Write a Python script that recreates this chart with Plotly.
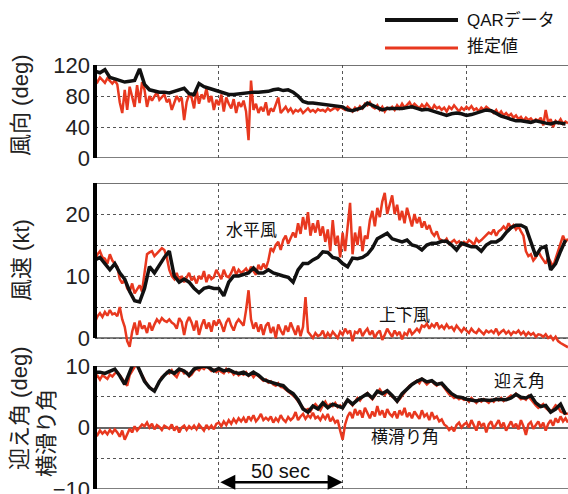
import plotly.graph_objects as go

# ---------------- data ----------------
t_qar = list(range(0, 192, 2))      # QAR sample times (s)
t_est = list(range(0, 192))         # estimate sample times (s)

# Panel 1: wind direction (deg)
dir_qar = [112, 110, 114, 104, 102, 100, 98, 99, 100, 115, 95, 88, 86, 85, 85, 84,
           86, 88, 90, 83, 82, 96, 92, 90, 88, 85, 84, 82, 82, 83, 84, 84,
           85, 85, 85, 86, 88, 89, 87, 88, 85, 80, 73, 71, 71, 70, 70, 69,
           68, 67, 66, 62, 61, 63, 65, 71, 68, 66, 62, 64, 64, 63, 64, 65,
           66, 64, 62, 63, 61, 60, 58, 55, 57, 58, 57, 55, 56, 58, 60, 62,
           61, 57, 54, 52, 50, 48, 48, 47, 46, 48, 46, 45, 44, 46, 45, 44]
dir_est = [102, 98, 104, 100, 97, 103, 99, 96, 100, 95,
           72, 58, 88, 62, 92, 80, 66, 94, 71, 98,
           88, 66, 80, 74, 79, 85, 75, 78, 82, 72,
           76, 62, 70, 80, 74, 78, 49, 72, 82, 78,
           64, 88, 70, 82, 76, 90, 72, 80, 62, 75,
           68, 82, 60, 78, 70, 64, 76, 58, 72, 66,
           74, 60, 23, 100, 62, 70, 58, 66, 60, 72,
           55, 64, 60, 68, 78, 58, 62, 66, 60, 64,
           58, 62, 60, 63, 58, 61, 64, 60, 62, 59,
           63, 61, 62, 60, 64, 61, 63, 65, 62, 66,
           64, 62, 66, 63, 60, 65, 62, 67, 64, 70,
           68, 72, 66, 64, 68, 62, 66, 60, 65, 63,
           66, 62, 68, 64, 70, 65, 68, 72, 66, 70,
           67, 64, 69, 65, 70, 66, 62, 68, 64, 66,
           62, 65, 60, 66, 63, 68, 64, 60, 65, 62,
           66, 63, 67, 62, 64, 60, 65, 62, 66, 63,
           61, 58, 62, 56, 60, 55, 58, 54, 57, 52,
           55, 50, 53, 48, 52, 49, 51, 47, 50, 48,
           52, 42, 62, 46, 50, 40, 48, 45, 50, 44, 47, 45]

# Panel 2: wind speed (kt)
hw_qar = [12.6, 13, 12, 11, 12, 10.5, 9.5, 7.5, 6, 5.8, 8, 11.5, 10.5, 11.8, 13, 14,
          10, 9, 9.5, 9, 8, 7.3, 8, 8.2, 8, 8, 6.8, 9, 10, 10, 10.2, 10.5,
          11.3, 10.5, 10.5, 11, 10.5, 10.2, 10, 9.8, 9, 11, 12, 12, 12.6, 13, 13.9, 13.8,
          13, 12.8, 12, 11.5, 12.9, 12.8, 13, 13.5, 14.5, 16, 16.5, 16.9, 16, 15.8,
          15.5, 15.8, 15, 14.8, 14.2, 15, 15.3, 15.3, 15.6, 15.6, 15, 14.2, 15.3, 15, 14.7, 14.7,
          14, 15, 15.5, 15.5, 16, 17, 17.8, 18.2, 18.2, 17.8, 15.5, 13.2, 14.5, 14.8, 11, 12, 14, 15.8]
hw_est = [12.5, 13.5, 14, 13, 12.8, 12, 13.5, 12.5, 12, 11.5,
          9.5, 8.8, 9.5, 8, 7.5, 8.8, 7.2, 7.8, 8.5, 7.5,
          10.5, 13.5, 13.8, 14, 13.2, 13.6, 14, 14.5, 14.2, 13,
          11, 10, 9.5, 10.5, 9.2, 10, 9, 9.8, 10.5, 9.3,
          9.8, 8.8, 10, 9.5, 10.8, 9, 10.2, 9.5, 9.8, 11,
          10.2, 9.5, 11, 10, 9.8, 10.5, 11.5, 10.2, 11, 10.5,
          10.8, 11.2, 10.5, 11.5, 10.8, 10.2, 11.8, 11, 12, 11.2,
          12.5, 14.5, 14, 15, 15.5, 14.2, 15.8, 16.5, 15.2, 16,
          17, 16.2, 18.5, 16.8, 19.5, 17.5, 20.3, 16.5, 18.5, 17,
          19, 16.5, 18, 15.5, 17.5, 14, 19, 15, 16.5, 13,
          17, 14, 18.5, 21.8, 13.5, 17, 15, 18, 14, 16.5,
          16, 19, 20.5, 18, 21, 19.5, 22, 23.4, 20, 21.5,
          23, 20, 21.5, 19, 20.5, 18.5, 21, 19.5, 18, 20,
          18.5, 19.5, 17.8, 18.8, 17.5, 18.2, 17, 16.5, 17.2, 16,
          15.8, 15.5, 16, 15.2, 15.5, 15.8, 15.3, 15.6, 15, 15.5,
          15.2, 15.8, 15.5, 15, 16, 15.5, 15.8, 16.2, 16.5, 17,
          16.8, 17.5, 16.5, 17.2, 17.5, 18, 17.5, 18.5, 17.8, 18.2,
          17.5, 18, 17.2, 16.5, 14, 13.2, 13.5, 12.5, 13, 14,
          13.2, 12.5, 12, 13, 12.2, 11.5, 12.8, 14, 15, 16.5, 15.5, 16]
vw_est = [2.6, 3.5, 4, 3.4, 4.2, 3.6, 4.5, 3.8, 4, 3.5,
          5, 3, 1.8, -0.5, -1.4, 1, 2.5, 0.5, 2.8, 1.5,
          2, 0.8, 2.5, 1.2, 2.2, 3, 2.5, 3.2, 2.8, 2.6,
          3, 2.5, 2.2, 1.5, 3.2, 2.6, 0.5, 2.5, 3.4, 2.5,
          1.2, 2.8, 0.5, 2, 3, 1.5, 2.5, 1, 2.8, 2,
          3, 2.2, 1, 2.5, 3.2, 2, 1.2, 2.4, 3, 2.5,
          2, 4.5, 7.7, 3, 1.5, 2.5, 1, 2.2, 0.5, 2,
          2.5, 0.8, 1.8, 0, 2.2, 1.2, 0.5, 2, 1, 2.5,
          1.5, 0.5, 2, 0.3, 1.8, 6.6, 1, 0.5, 0, 0.8,
          0.3, 0.5, 1.2, 0, 0.8, 0.2, 1, 0.5, 0, 1,
          0.5, 1.5, 0.8, 1.2, -0.5, 1, 0.8, 1.5, 0.3, 1,
          1.5, 0.5, 1.2, 0, 0.8, 1.2, -0.3, 0.5, 1.5, 0.8,
          0.2, 1.2, 0.5, 1, -0.2, 0.8, 0.5, 1.5, 0.6, 1,
          1.5, 1, 2, 1.8, 2.3, 1.5, 2.2, 1.8, 2.5, 1.6,
          2, 1.5, 2.2, 1.6, 1.8, 1.2, 2, 1.5, 1, 1.6,
          1.2, 0.8, 1.5, 1, 0.8, 1.4, 1, 0.6, 1.2, 0.9,
          1.2, 0.8, 1.5, 0.6, 1, 1.3, 0.7, 1.1, 0.5, 1,
          0.8, 1.2, 0.6, 1, 0.4, 0.9, 0.5, 0.8, 0.2, 0.6,
          0.5, 0.2, 0.6, 0, 0.3, -0.3, 0.2, -0.5, -0.8, -1, -1.3, -1.5]

# Panel 3: angle of attack / sideslip (deg)
aoa_qar = [9, 9, 8.8, 9.2, 9.5, 8.4, 7, 9, 11, 9.3, 7.5, 6.5, 5.9, 7.5, 8.5, 9.2,
           8.8, 9.5, 9.2, 8.5, 9.5, 9.8, 10, 9.8, 9.2, 9.6, 9.2, 9.4, 9, 8.8, 9, 8.5,
           9, 8.5, 7.8, 7.5, 7.2, 7, 6.8, 6, 5.5, 4.5, 3, 2.5, 3.5, 3, 4, 3.2,
           3.8, 3.5, 3.2, 4.5, 3.8, 4.5, 5, 5.5, 4.8, 5.9, 5.5, 6, 5.2, 4.3,
           5.5, 6.2, 7, 7.5, 7.9, 7.4, 7.6, 7, 7.2, 6.3, 5.5, 5, 4.9, 4.6,
           4.5, 4.3, 4.5, 4.4, 4.4, 4.6, 4.5, 4.5, 4.8, 5.4, 4.9, 4.8, 5.2, 4, 3.4, 3.6,
           2.5, 3, 3.8, 2.1]
aoa_est = [8, 8.4, 7.8, 8.5, 8.2, 7.9, 8.6, 8.3, 8.8, 9,
           8.5, 7.9, 7.2, 6.8, 8.5, 9.2, 10, 10.5, 9.2, 8.6,
           7.8, 7, 6.6, 6.2, 6, 6.8, 7.6, 8.2, 8.4, 9,
           8.8, 9.3, 8.6, 8.2, 9.1, 9.4, 8.8, 9, 8.3, 8.6,
           9.2, 9.6, 9.3, 9.8, 9.5, 10, 9.6, 9.2, 9.4, 9,
           9.3, 9.1, 8.8, 9.5, 9, 9.2, 8.6, 9, 8.5, 8.8,
           8.6, 9, 8.4, 8.8, 8.2, 8.7, 8.4, 8, 7.6, 7.8,
           7.3, 7.5, 7, 6.8, 7.2, 6.6, 6.5, 6.2, 5.8, 5.6,
           5.2, 4.8, 4.2, 3.8, 3.2, 2.8, 3, 2.6, 3.4, 3.8,
           3.2, 2.8, 3.6, 4.2, 3.4, 3.8, 3.5, 4, 3.3, 3.6,
           3.2, 4, 4.5, 4.1, 3.6, 4.2, 4.8, 4.4, 5, 5.3,
           5.6, 5, 4.6, 5.2, 5.8, 6.2, 5.6, 5.3, 5.9, 5.4,
           5, 4.8, 4.2, 4.6, 5.2, 5.8, 6.4, 6.8, 7, 7.3,
           7.6, 7.2, 7.9, 7.5, 7, 7.4, 7.6, 7.1, 6.8, 7.2,
           7, 6.5, 6, 5.4, 5.2, 4.8, 5, 4.6, 4.8, 4.5,
           4.6, 4.2, 4.8, 4.4, 4, 4.5, 4.2, 4.6, 4.3, 4,
           4.5, 4.2, 4.7, 4.4, 4.8, 4.3, 4.6, 4.9, 5.2, 5,
           5.5, 5, 4.6, 4.8, 4.5, 5.1, 4.6, 4, 3.6, 3.2,
           3.5, 3.8, 3.2, 2.8, 2.5, 3, 3.6, 3.3, 2.6, 2.4, 2.2, 2.3]
slip_est = [-0.8, -1.2, -0.5, -1, -0.6, -1.1, -0.4, -0.9, -0.3, -0.8,
            -1.5, -0.5, -2, -1, -0.2, -0.8, 0.2, -0.5, 0, 0.5,
            0.2, 0.8, 0, 0.6, -0.3, 0.4, 0.1, -0.4, 0.3, 0,
            -0.2, 0.5, -0.5, 0.2, -0.8, 0, 0.3, -0.4, 0.2, -0.2,
            0.3, -0.3, 0.5, 0, -0.5, 0.4, -0.2, 0.3, -0.3, 0.6,
            0.8, 0.2, 1, 0.4, 1.2, 0.6, 1.4, 0.8, 1.5, 1,
            1.6, 0.8, 1.8, 1.2, 2, 1, 1.5, 2.2, 1.2, 1.6,
            1.2, 1.8, 0.8, 1.5, 1, 2, 1.3, 0.9, 1.7, 1.2,
            1.6, 2.5, 1.2, 1.8, 2.2, 1.4, 2, 1.6, 2.4, 1.5,
            1.8, 1.2, 2, 1.4, 2.2, 1, 1.6, 0.8, 1.2, -0.5,
            -2, 0.5, 1.8, 2.5, 1.5, 3, 2, 2.8, 1.6, 3.2,
            2.2, 1.5, 2.6, 1.8, 3.5, 2, 2.8, 1.6, 3, 2.2,
            1.8, 2.6, 1.5, 2.8, 2, 3.2, 1.7, 2.4, 1.5, 2.6,
            2, 1.4, 2.8, 1.8, 2.2, 1.2, 2.5, 1.5, 1.8, 1,
            1.3, 0.5, 0.2, -0.4, 0, -0.6, 0.4, 0.8, 0, 0.5,
            0.8, 0, 1.2, 0.4, -0.5, 1, 0.2, 0.7, -0.8, 0.5,
            1, -0.2, 0.6, 1.2, 0, 0.8, -0.5, 0.4, 1, 0,
            0.6, -0.3, 1.2, 0.2, -1.2, 0.5, 0.9, -0.2, 0.5, 1,
            0, 0.8, -0.5, 0.6, 1.2, 0.3, 1.5, 0.8, 1.8, 1, 1.5, 0.8]

legend_names = ["QARデータ", "推定値"]
panel_titles = ["風向 (deg)", "風速 (kt)", "迎え角 (deg)", "横滑り角"]
x_range = [0, 191]

# ---------------- style ----------------
BLACK = "#111111"
RED = "#E8381F"
GRID = "#555555"
FONT = "Liberation Sans, Arial, Noto Sans CJK JP, sans-serif"

fig = go.Figure()

def add_pair(xa, ya, tq, yq, te, ye):
    if ye is not None:
        fig.add_trace(go.Scatter(x=te, y=ye, mode="lines", line=dict(color=RED, width=2.5),
                                 xaxis=xa, yaxis=ya, showlegend=False, hoverinfo="skip"))
    if yq is not None:
        fig.add_trace(go.Scatter(x=tq, y=yq, mode="lines", line=dict(color=BLACK, width=3.5),
                                 xaxis=xa, yaxis=ya, showlegend=False, hoverinfo="skip"))

add_pair("x", "y", t_qar, dir_qar, t_est, dir_est)
add_pair("x2", "y2", None, None, t_est, vw_est)
add_pair("x2", "y2", t_qar, hw_qar, t_est, hw_est)
add_pair("x3", "y3", None, None, t_est, slip_est)
add_pair("x3", "y3", t_qar, aoa_qar, t_est, aoa_est)

H = 494.0
def dom(top_px, bot_px):
    return [1 - bot_px / H, 1 - top_px / H]

xcommon = dict(range=x_range, showticklabels=False, ticks="", showline=False,
               showgrid=True, gridcolor=GRID, griddash="dot", gridwidth=1.3,
               tick0=0, dtick=50, zeroline=False, domain=[0, 1], automargin=False)
ycommon = dict(showline=False, ticks="", ticklabelstandoff=4, automargin=False,
               ticklabeloverflow="allow",
               tickfont=dict(family=FONT, size=22, color="#222"),
               showgrid=True, gridcolor=GRID, griddash="dot", gridwidth=1.3)

fig.update_layout(
    width=568, height=494,
    margin=dict(l=95, r=0, t=0, b=0, autoexpand=False),
    plot_bgcolor="white", paper_bgcolor="white",
    font=dict(family=FONT, color="#222"),
    showlegend=False,
    xaxis=dict(**xcommon, anchor="y"),
    xaxis2=dict(**xcommon, anchor="y2", matches="x"),
    xaxis3=dict(**xcommon, anchor="y3", matches="x"),
    yaxis=dict(**ycommon, anchor="x", domain=dom(65, 158), range=[0, 120],
               tickvals=[0, 40, 80, 120], zeroline=False),
    yaxis2=dict(**ycommon, anchor="x2", domain=dom(183, 350.4), range=[-2, 25],
                tickvals=[0, 10, 20], zeroline=False,
                minor=dict(tickvals=[5, 15], showgrid=True, gridcolor=GRID,
                           griddash="dot", gridwidth=1.3)),
    yaxis3=dict(**ycommon, anchor="x3", domain=dom(366, 489), range=[-10, 10],
                tickvals=[-10, 0, 10], zeroline=True, zerolinecolor="#666",
                zerolinewidth=1.5,
                minor=dict(tickvals=[-5, 5], showgrid=True, gridcolor=GRID,
                           griddash="dot", gridwidth=1.3)),
)

shapes = []
for xa, ya, lo, hi in [("x", "y", 0, 120), ("x2", "y2", 0, 25), ("x3", "y3", -10, 10)]:
    shapes.append(dict(type="line", xref=f"{xa} domain", yref=ya, x0=0, x1=1, y0=hi, y1=hi,
                       line=dict(color="#444", width=1.5), layer="above"))
    shapes.append(dict(type="line", xref=f"{xa} domain", yref=ya, x0=0, x1=1, y0=lo, y1=lo,
                       line=dict(color="#555", width=1.5), layer="below"))
    shapes.append(dict(type="line", xref=f"{xa} domain", yref=ya, x0=0, x1=0, y0=lo, y1=hi,
                       line=dict(color="black", width=4), layer="above"))

# legend (manual)
shapes.append(dict(type="line", xref="paper", yref="paper", x0=(385 - 95) / 473, x1=(458 - 95) / 473,
                   y0=1 - 20 / H, y1=1 - 20 / H, line=dict(color=BLACK, width=4)))
shapes.append(dict(type="line", xref="paper", yref="paper", x0=(385 - 95) / 473, x1=(458 - 95) / 473,
                   y0=1 - 48 / H, y1=1 - 48 / H, line=dict(color=RED, width=3)))
fig.update_layout(shapes=shapes)

ann = []
def txt(text, x, y, xref, yref, size=17, **kw):
    ann.append(dict(text=text, x=x, y=y, xref=xref, yref=yref, showarrow=False,
                    font=dict(family=FONT, size=size, color="#111"), **kw))

txt(legend_names[0], (465 - 95) / 473, 1 - 20 / H, "paper", "paper", xanchor="left", yanchor="middle")
txt(legend_names[1], (465 - 95) / 473, 1 - 47 / H, "paper", "paper", xanchor="left", yanchor="middle")

def ytitle(text, xpx, ypx, **kw):
    ann.append(dict(text=text, x=(xpx - 95) / 473, y=1 - ypx / H, xref="paper", yref="paper",
                    showarrow=False, textangle=-90, xanchor="center", yanchor="middle",
                    font=dict(family=FONT, size=22, color="#222"), **kw))

ytitle(panel_titles[0], 20, 106)
ytitle(panel_titles[1], 21, 260)
ytitle(panel_titles[2], 19, 409)
ytitle(panel_titles[3], 46, 433)

txt("水平風", 63.3, 17.4, "x2", "y2")
txt("上下風", 125, 3.7, "x2", "y2")
txt("迎え角", 171.4, 7.4, "x3", "y3")
txt("横滑り角", 125, -1.6, "x3", "y3")
txt("50 sec", 75, -7.0, "x3", "y3", size=20)
ann[-1]["font"]["family"] = "Liberation Sans Narrow, Liberation Sans, Arial"

ann.append(dict(x=100, y=-8.9, ax=50, ay=-8.9, xref="x3", yref="y3", axref="x3", ayref="y3",
                text="", showarrow=True, arrowhead=2, startarrowhead=2, arrowside="end+start",
                arrowsize=1.2, arrowwidth=2.5, arrowcolor="black"))

fig.update_layout(annotations=ann)
fig.write_html("out.html")
